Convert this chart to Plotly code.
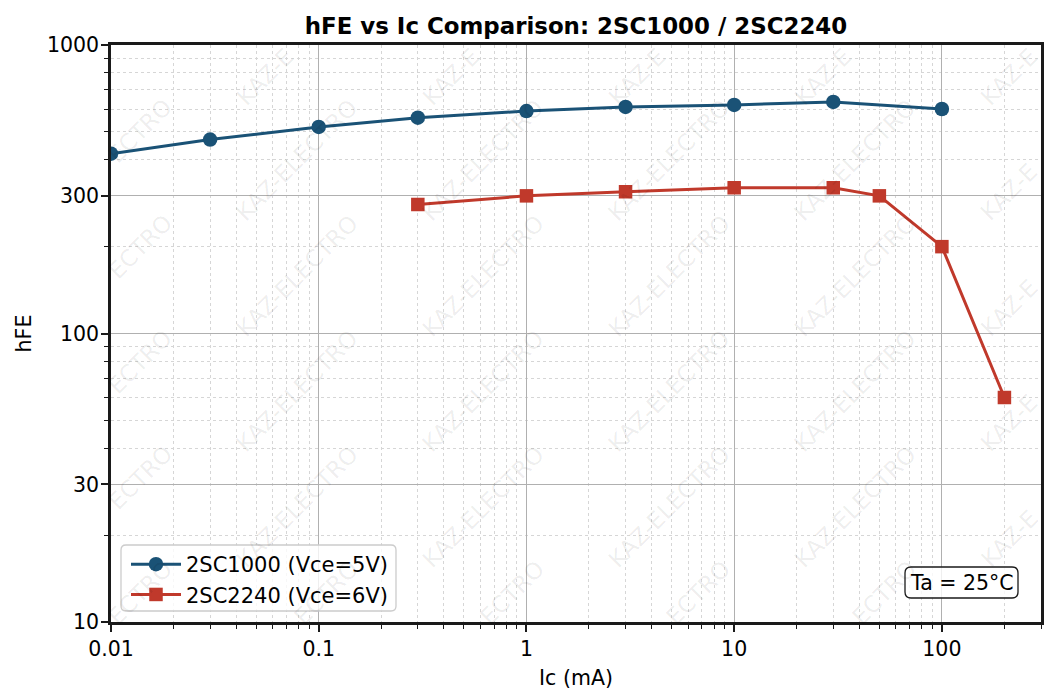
import plotly.graph_objects as go

# ---------------- data ----------------
ic_2sc1000 = [0.01, 0.03, 0.1, 0.3, 1, 3, 10, 30, 100]
hfe_2sc1000 = [420, 470, 520, 560, 590, 610, 620, 635, 600]

ic_2sc2240 = [0.3, 1, 3, 10, 30, 50, 100, 200]
hfe_2sc2240 = [280, 300, 310, 320, 320, 300, 200, 60]

x_major_ticks = [0.01, 0.1, 1, 10, 100]
x_major_labels = ["0.01", "0.1", "1", "10", "100"]
y_major_ticks = [10, 30, 100, 300, 1000]
y_major_labels = ["10", "30", "100", "300", "1000"]

x_minor_ticks = [k * d for d in [0.01, 0.1, 1, 10, 100] for k in range(2, 10) if k * d <= 300]
y_minor_ticks = [k * d for d in [10, 100] for k in [2, 4, 5, 6, 7, 8, 9]]

title_text = "<b>hFE vs Ic Comparison: 2SC1000 / 2SC2240</b>"
watermark = "KAZ-ELECTRO"
note_text = "Ta = 25°C"

FONT = "DejaVu Sans"
BLUE = "#1a5276"
RED = "#c0392b"
PAGE_OFF = 8  # default body margin of the html page
W, H = 1055 - PAGE_OFF, 700 - PAGE_OFF
ML, MR, MT, MB = 111 - PAGE_OFF, 14, 45 - PAGE_OFF, 78

fig = go.Figure()
fig.add_trace(go.Scatter(
    x=ic_2sc1000, y=hfe_2sc1000, mode="lines+markers",
    name="2SC1000 (Vce=5V)",
    line=dict(color=BLUE, width=3),
    marker=dict(symbol="circle", size=14.5, color=BLUE),
))
fig.add_trace(go.Scatter(
    x=ic_2sc2240, y=hfe_2sc2240, mode="lines+markers",
    name="2SC2240 (Vce=6V)",
    line=dict(color=RED, width=3),
    marker=dict(symbol="square", size=13.5, color=RED),
))

axis_common = dict(
    type="log",
    showline=True, mirror=True, linecolor="#1a1a1a", linewidth=2.5,
    ticks="outside", ticklen=7, tickwidth=1.6, tickcolor="#1a1a1a",
    showgrid=True, gridcolor="#b0b0b0", gridwidth=1.1,
    zeroline=False,
    tickfont=dict(family=FONT, size=20.5, color="black"),
)

fig.update_xaxes(
    **axis_common,
    ticklabelstandoff=0,
    range=[-2, 2.4771213],
    tickmode="array", tickvals=x_major_ticks, ticktext=x_major_labels,
    minor=dict(tickmode="array", tickvals=x_minor_ticks, ticks="outside", ticklen=4,
               tickwidth=1.2, tickcolor="#1a1a1a", showgrid=True,
               gridcolor="#d6d6d6", griddash="dot", gridwidth=1),
    title=dict(text="Ic (mA)", font=dict(family=FONT, size=20.5, color="black"), standoff=11),
    automargin=False,
)
fig.update_yaxes(
    **axis_common,
    ticklabelstandoff=-2,
    range=[1, 3],
    tickmode="array", tickvals=y_major_ticks, ticktext=y_major_labels,
    minor=dict(tickmode="array", tickvals=y_minor_ticks, ticks="outside", ticklen=4,
               tickwidth=1.2, tickcolor="#1a1a1a", showgrid=True,
               gridcolor="#d6d6d6", griddash="dot", gridwidth=1),
    title=dict(text="hFE", font=dict(family=FONT, size=20.5, color="black"), standoff=10),
    automargin=False,
)

# ---------------- watermark grid ----------------
fracs = [0, 0.2, 0.4, 0.6, 0.8, 1.0]
wm_font = dict(family=FONT, size=23, color="rgba(0,0,0,0.08)")
for fx in fracs:
    for fy in fracs:
        interior_x = 0 < fx < 1
        interior_y = 0 < fy < 1
        if interior_x and interior_y:
            txt, dx, dy = watermark, 0, 0
        elif (fx == 0 and fy == 1) or (fx == 1 and fy == 0):
            continue
        elif fy == 0 or fx == 0:
            txt, dx, dy = "ECTRO", 29, 29
        else:
            txt, dx, dy = "KAZ-E", -32, -32
        fig.add_annotation(
            x=fx, y=fy, xref="x domain", yref="y domain",
            text=txt, showarrow=False, textangle=-45,
            xanchor="center", yanchor="middle",
            xshift=dx, yshift=dy, font=wm_font,
        )

# ---------------- rounded boxes ----------------
def rounded(x0, y0, x1, y1, r):
    return (f"M {x0+r},{y0} L {x1-r},{y0} Q {x1},{y0} {x1},{y0+r} "
            f"L {x1},{y1-r} Q {x1},{y1} {x1-r},{y1} L {x0+r},{y1} "
            f"Q {x0},{y1} {x0},{y1-r} L {x0},{y0+r} Q {x0},{y0} {x0+r},{y0} Z")

# legend frame (pixels relative to plot bottom-left)
fig.add_shape(
    type="path", xref="paper", yref="paper", xsizemode="pixel", ysizemode="pixel",
    xanchor=0, yanchor=0, path=rounded(10, 11, 285, 77, 5),
    fillcolor="rgba(255,255,255,0.8)", line=dict(color="#cccccc", width=1.3), layer="above",
)
# note frame (pixels relative to plot bottom-right)
fig.add_shape(
    type="path", xref="paper", yref="paper", xsizemode="pixel", ysizemode="pixel",
    xanchor=1, yanchor=0, path=rounded(-136, 24, -23, 55, 6),
    fillcolor="rgba(255,255,255,0.8)", line=dict(color="#1a1a1a", width=1.3), layer="above",
)
fig.add_annotation(
    x=1, y=0, xref="paper", yref="paper", xshift=-79.5, yshift=39.5,
    xanchor="center", yanchor="middle", text=note_text, showarrow=False,
    font=dict(family=FONT, size=20.5, color="black"),
)

fig.update_layout(
    width=W, height=H, autosize=False,
    margin=dict(l=ML, r=MR, t=MT, b=MB),
    paper_bgcolor="white", plot_bgcolor="white",
    font=dict(family=FONT, size=20.5, color="black"),
    title=dict(text=title_text, x=0.5, xref="paper", xanchor="center",
               y=1 - (26 - PAGE_OFF) / H, yref="container", yanchor="middle",
               font=dict(family=FONT, size=22.9, color="black")),
    legend=dict(x=15 / 930, y=7 / 577, xanchor="left", yanchor="bottom",
                bgcolor="rgba(0,0,0,0)", borderwidth=0, itemwidth=50,
                font=dict(family=FONT, size=21, color="black"),
                tracegroupgap=0),
    showlegend=True,
)

fig.write_html("out.html")
